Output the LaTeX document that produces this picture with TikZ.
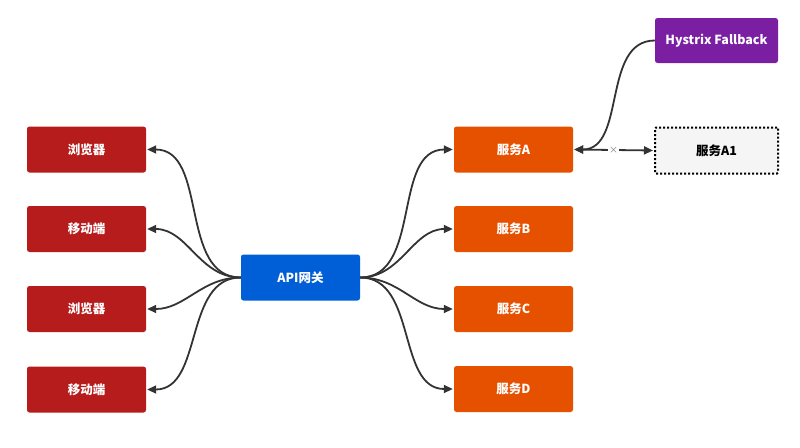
\documentclass[tikz,border=0pt]{standalone}
\usepackage{fontspec}
\setmainfont{Noto Sans CJK SC}
\usetikzlibrary{arrows.meta}
\definecolor{cred}{HTML}{B71C1C}
\definecolor{corange}{HTML}{E65100}
\definecolor{cblue}{HTML}{005ED6}
\definecolor{cpurple}{HTML}{7B1FA2}
\definecolor{cline}{HTML}{333333}
\definecolor{cgray}{HTML}{F5F5F5}
\tikzset{
  box/.style={rounded corners=2.5, minimum width=119, minimum height=46, inner sep=0,
    font=\fontsize{12.5}{14}\selectfont\bfseries, text=white},
  redbox/.style={box, fill=cred},
  orangebox/.style={box, fill=corange},
  bluebox/.style={box, fill=cblue},
  purplebox/.style={box, fill=cpurple, minimum width=123, minimum height=45},
  dotbox/.style={box, fill=cgray, text=black, minimum width=123, minimum height=46,
    draw=black, line width=2, dash pattern=on 2 off 2, rounded corners=1},
  conn/.style={draw=cline, line width=1.8, -{Triangle[length=9,width=8]}, shorten >=1},
  biconn/.style={draw=cline, line width=1.8, {Triangle[length=9,width=8]}-{Triangle[length=9,width=8]},
    shorten >=1, shorten <=1},
  xlabel/.style={fill=white, inner sep=1, text=gray, font=\fontsize{9}{10}\selectfont},
}
\begin{document}
\begin{tikzpicture}[x=1pt,y=-1pt]
\useasboundingbox (0,0) rectangle (800,447);
\node[redbox] (l1) at (86.5,149.5) {浏览器};
\node[redbox] (l2) at (86.5,229) {移动端};
\node[redbox] (l3) at (86.5,309) {浏览器};
\node[redbox] (l4) at (86.5,389.5) {移动端};
\node[bluebox] (gw) at (300.5,277.5) {API网关};
\node[orangebox] (r1) at (513.5,149.5) {服务A};
\node[orangebox] (r2) at (513.5,229) {服务B};
\node[orangebox] (r3) at (513.5,309) {服务C};
\node[orangebox] (r4) at (513.5,389) {服务D};
\node[purplebox] (hy) at (716.5,40.5) {Hystrix Fallback};
\node[dotbox] (a1) at (716.5,150.5) {服务A1};
\foreach \t in {l1,l2,l3,l4}{
  \draw[conn] (gw.west) to[out=180,in=0] (\t.east);
}
\foreach \t in {r1,r2,r3,r4}{
  \draw[conn] (gw.east) to[out=0,in=180] (\t.west);
}
\draw[conn] (hy.west) to[out=180,in=0] (r1.east);
\draw[biconn] (r1.east) -- node[xlabel] {×} (a1.west);
\end{tikzpicture}
\end{document}
